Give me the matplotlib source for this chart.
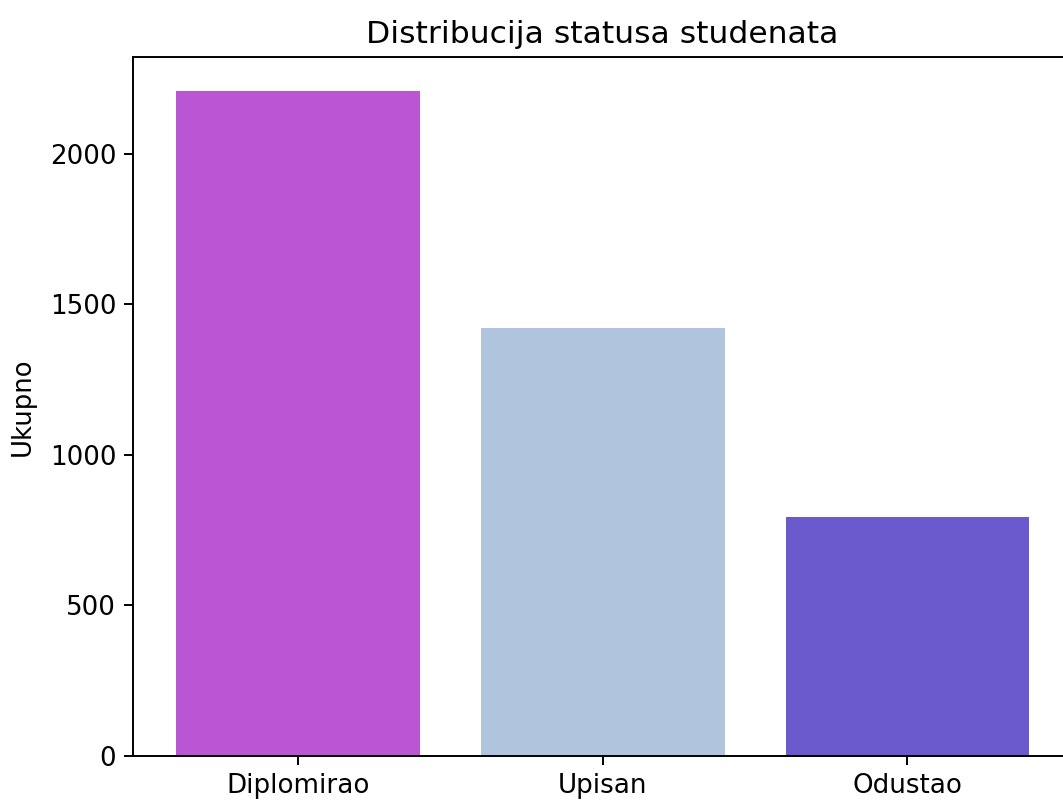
import matplotlib
matplotlib.use("Agg")
import matplotlib.pyplot as plt

categories = ["Diplomirao", "Upisan", "Odustao"]
values = [2209, 1421, 794]
colors = ["#BA55D3", "#B0C4DE", "#6A5ACD"]

s = 1.75
fs = 18.8
plt.rcParams.update({
    "font.size": fs,
    "axes.linewidth": 0.8 * s,
    "xtick.major.width": 0.8 * s,
    "ytick.major.width": 0.8 * s,
    "xtick.major.size": 3.5 * s,
    "ytick.major.size": 3.5 * s,
    "xtick.major.pad": 3.5 * s,
    "ytick.major.pad": 3.5 * s,
})

fig = plt.figure(figsize=(10.63, 8), dpi=100)
W, H = 1063, 800
left, right, top, bottom = 133.3, 1072, 57.3, 756
ax = fig.add_axes([left / W, 1 - bottom / H, (right - left) / W, (bottom - top) / H])
ax.bar(categories, values, color=colors, width=0.8)
ax.set_title("Distribucija statusa studenata", fontsize=22.6, pad=6 * s)
ax.set_ylabel("Ukupno", fontsize=18.6, labelpad=4 * s + 3)
fig.savefig("out.png", dpi=100)
